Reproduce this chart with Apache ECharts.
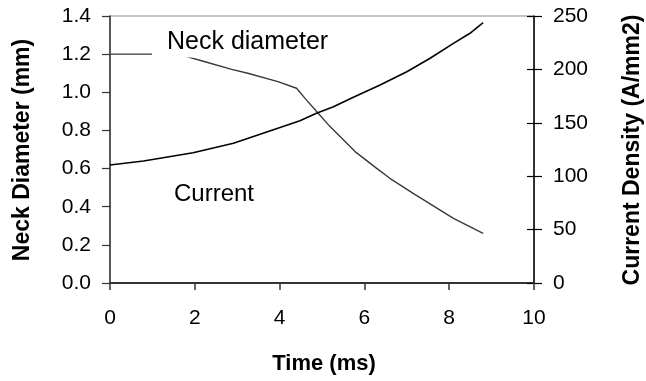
<!DOCTYPE html>
<html>
<head>
<meta charset="utf-8">
<script src="https://cdn.jsdelivr.net/npm/echarts@6/dist/echarts.min.js"></script>
<style>
html,body{margin:0;padding:0;background:#fff;}
#c{width:646px;height:381px;}
</style>
</head>
<body>
<div id="c"></div>
<script>
// Neck diameter (mm) vs time (ms)
const timeNeck = [0, 0.98, 1.67, 2.24, 2.87, 3.25, 3.96, 4.40, 4.60, 4.91, 5.19, 5.78, 6.29, 6.60, 7.15, 8.10, 8.80];
const neckDiameter = [1.20, 1.20, 1.196, 1.16, 1.12, 1.10, 1.056, 1.021, 0.968, 0.89, 0.82, 0.689, 0.601, 0.549, 0.47, 0.339, 0.26];
// Current density (A/mm2) vs time (ms)
const timeCurrent = [0, 0.79, 1.96, 2.91, 3.54, 4.48, 4.87, 5.27, 5.74, 6.37, 7.0, 7.55, 8.10, 8.49, 8.80];
const currentDensity = [110.5, 114.2, 122, 130.8, 139.2, 152, 158.9, 165, 173.9, 185.4, 197.8, 210.4, 224.4, 233.8, 243.7];

const xTitle = 'Time (ms)';
const yLeftTitle = 'Neck Diameter (mm)';
const yRightTitle = 'Current Density (A/mm2)';
const neckLabel = 'Neck diameter';
const currentLabel = 'Current';

const FONT = 'Liberation Sans, Arial, sans-serif';
const chart = echarts.init(document.getElementById('c'), null, {renderer: 'canvas'});

const zip = (xs, ys) => xs.map((x, i) => [x, ys[i]]);
const gridBox = {left: 110, right: 112, top: 16, bottom: 98};

chart.setOption({
  animation: false,
  backgroundColor: '#fff',
  grid: [
    Object.assign({show: true, borderColor: '#8c8c8c', borderWidth: 1, backgroundColor: 'transparent'}, gridBox),
    Object.assign({show: false}, gridBox)
  ],
  xAxis: [
    {
      type: 'value', gridIndex: 0, min: 0, max: 10, interval: 2,
      axisLine: {show: true, onZero: false, lineStyle: {color: '#333', width: 2}},
      axisTick: {show: true, inside: false, length: 7, lineStyle: {color: '#333', width: 1.5}},
      axisLabel: {color: '#000', fontSize: 21, fontFamily: FONT, margin: 25},
      splitLine: {show: false}
    },
    {
      type: 'value', gridIndex: 1, min: 0, max: 10, interval: 2, show: false
    }
  ],
  yAxis: [
    {
      type: 'value', gridIndex: 0, min: 0, max: 1.4, interval: 0.2, position: 'left',
      axisLine: {show: true, onZero: false, lineStyle: {color: '#333', width: 1.5}},
      axisTick: {show: true, inside: false, length: 8, lineStyle: {color: '#333', width: 1.2}},
      axisLabel: {color: '#000', fontSize: 21, fontFamily: FONT, margin: 19, formatter: v => v.toFixed(1)},
      splitLine: {show: false}
    },
    {
      type: 'value', gridIndex: 0, min: 0, max: 250, interval: 50, position: 'right',
      axisLine: {show: true, onZero: false, lineStyle: {color: '#000', width: 1.5}},
      axisTick: {show: true, inside: false, length: 8, lineStyle: {color: '#000', width: 1.2}},
      axisLabel: {color: '#000', fontSize: 21, fontFamily: FONT, margin: 19},
      splitLine: {show: false}
    },
    {
      type: 'value', gridIndex: 1, min: 0, max: 250, interval: 50, position: 'right',
      axisLine: {show: false, onZero: false},
      axisTick: {show: true, inside: true, length: 7, lineStyle: {color: '#000', width: 1.2}},
      axisLabel: {show: false},
      splitLine: {show: false}
    }
  ],
  series: [
    {
      name: neckLabel, type: 'line', xAxisIndex: 0, yAxisIndex: 0, data: zip(timeNeck, neckDiameter),
      showSymbol: false, symbol: 'none', smooth: false,
      lineStyle: {color: '#3a3a3a', width: 1.4}, z: 2
    },
    {
      name: currentLabel, type: 'line', xAxisIndex: 0, yAxisIndex: 1, data: zip(timeCurrent, currentDensity),
      showSymbol: false, symbol: 'none', smooth: false,
      lineStyle: {color: '#000', width: 1.6}, z: 3
    }
  ],
  graphic: [
    {type: 'text', z: 100, x: 152, y: 42, style: {text: neckLabel, font: '25px ' + FONT, fill: '#000', align: 'left', verticalAlign: 'middle', backgroundColor: '#fff', padding: [2, 6, 4, 15]}},
    {type: 'text', z: 100, x: 174, y: 194, style: {text: currentLabel, font: '24px ' + FONT, fill: '#000', align: 'left', verticalAlign: 'middle'}},
    {type: 'text', z: 100, x: 324, y: 364, style: {text: xTitle, font: 'bold 22px ' + FONT, fill: '#000', align: 'center', verticalAlign: 'middle'}},
    {type: 'text', z: 100, x: 23, y: 150, rotation: Math.PI / 2, style: {text: yLeftTitle, font: 'bold 23px ' + FONT, fill: '#000', align: 'center', verticalAlign: 'middle'}},
    {type: 'text', z: 100, x: 633, y: 150, rotation: Math.PI / 2, style: {text: yRightTitle, font: 'bold 23px ' + FONT, fill: '#000', align: 'center', verticalAlign: 'middle'}}
  ]
});
</script>
</body>
</html>
